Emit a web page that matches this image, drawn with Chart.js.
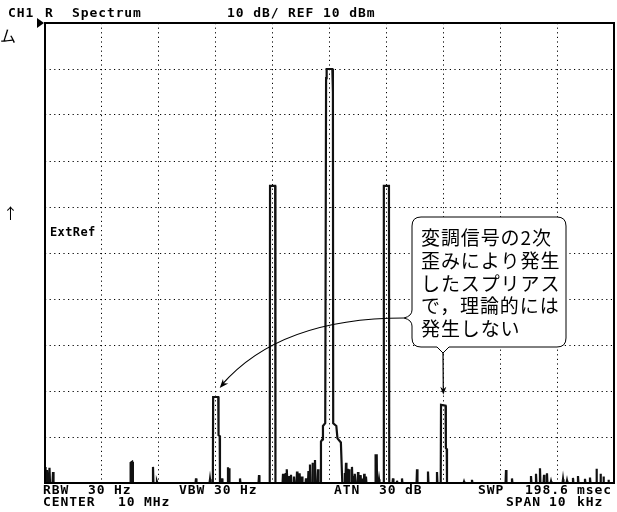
<!DOCTYPE html>
<html>
<head>
<meta charset="utf-8">
<script src="https://cdn.jsdelivr.net/npm/chart.js@4.4.1/dist/chart.umd.min.js"></script>
<style>
  html, body { margin: 0; padding: 0; background: #fff; }
  #wrap { width: 617px; height: 512px; position: relative; }
</style>
</head>
<body>
<div id="wrap"><canvas id="c" width="617" height="512"></canvas></div>
<script>
// Spectrum trace: offset from 10 MHz centre (kHz) and level (dBm), vertex by vertex
const traceKHz = [
  -5.000, -4.990, -4.975, -4.965, -4.955, -4.930, -4.921, -4.912, -4.868, -4.859, -4.850,
  -3.500, -3.495, -3.470, -3.455,
  -3.110, -3.102, -3.094,  -3.040, -3.032, -3.024,
  -2.354, -2.346, -2.338,  -2.108, -2.100, -2.092,
  -2.050, -2.045, -1.955, -1.950, -1.930, -1.925,
  -1.897, -1.889, -1.881,  -1.792, -1.784, -1.776, -1.766, -1.758,
  -1.581, -1.573, -1.565,  -1.247, -1.239, -1.231,
  -1.050, -1.045, -0.955, -0.950,
  -0.825, -0.817, -0.809,  -0.778, -0.770, -0.762,  -0.755, -0.747, -0.739,
  -0.713, -0.705, -0.697,  -0.685, -0.677, -0.669,  -0.632, -0.624, -0.616,
  -0.579, -0.571, -0.563,  -0.533, -0.525, -0.517,  -0.491, -0.483, -0.475,
  -0.421, -0.413, -0.405,  -0.378, -0.370, -0.362,  -0.351, -0.343, -0.335,
  -0.307, -0.299, -0.291,  -0.263, -0.255, -0.247,  -0.210, -0.202, -0.194,
  -0.160, -0.150, -0.125, -0.115, -0.075, -0.060, -0.050, 0.050, 0.060, 0.065, 0.120, 0.140, 0.200, 0.225,
  0.262, 0.270, 0.278,  0.282, 0.290, 0.298,  0.312, 0.320, 0.328,  0.335, 0.343, 0.351,
  0.387, 0.395, 0.403,  0.416, 0.424, 0.432,  0.440, 0.448, 0.456,  0.493, 0.501, 0.509,
  0.533, 0.541, 0.549,  0.563, 0.571, 0.579,  0.602, 0.610, 0.618,  0.633, 0.641, 0.649,
  0.805, 0.810, 0.830, 0.835,  0.862, 0.870, 0.878,
  0.950, 0.955, 1.045, 1.050,
  1.108, 1.116, 1.124,  1.178, 1.186, 1.194,  1.266, 1.274, 1.282,
  1.530, 1.538, 1.546,  1.723, 1.731, 1.739,  1.881, 1.889, 1.897,
  1.955, 1.960, 2.040, 2.045, 2.060, 2.065,
  2.356, 2.364, 2.372,  2.496, 2.504, 2.512,
  3.094, 3.102, 3.110,  3.199, 3.207, 3.215,
  3.533, 3.541, 3.549,  3.621, 3.629, 3.637,  3.691, 3.699, 3.707,
  3.762, 3.770, 3.778,  3.814, 3.822, 3.830,  3.885, 3.893, 3.901,
  4.096, 4.104, 4.112,  4.166, 4.174, 4.182,  4.271, 4.279, 4.287,
  4.359, 4.367, 4.375,  4.482, 4.490, 4.498,  4.570, 4.578, 4.586,
  4.684, 4.692, 4.700,  4.755, 4.763, 4.771,  4.807, 4.815, 4.823,
  4.895, 4.903, 4.911,  5.000
];
const traceDbm = [
  -86.5, -90, -90, -87.2, -90, -90, -86.7, -90, -90, -87.6, -90,
  -90, -85.6, -85.4, -90,
  -90, -86.5, -90,  -90, -89.7, -90,
  -90, -89.0, -90,  -90, -89.2, -90,
  -90, -71.3, -71.3, -79.6, -79.8, -90,
  -90, -89.0, -90,  -90, -86.6, -90, -86.8, -90,
  -90, -89.0, -90,  -90, -88.3, -90,
  -90, -25.4, -25.4, -90,
  -90, -88.0, -90,  -90, -87.8, -90,  -90, -87.0, -90,
  -90, -88.5, -90,  -90, -88.2, -90,  -90, -88.6, -90,
  -90, -87.5, -90,  -90, -87.9, -90,  -90, -88.6, -90,
  -90, -89.0, -90,  -90, -87.4, -90,  -90, -86.0, -90,
  -90, -85.6, -90,  -90, -85.0, -90,  -90, -87.0, -90,
  -90, -81.0, -80.5, -77.6, -77.0, -2.0, 0.0, 0.0, -5.0, -77.0, -77.6, -80.3, -81.2, -90,
  -90, -87.8, -90,  -90, -85.6, -90,  -90, -86.9, -90,  -90, -87.0, -90,
  -90, -86.5, -90,  -90, -88.4, -90,  -90, -88.0, -90,  -90, -87.6, -90,
  -90, -88.3, -90,  -90, -89.0, -90,  -90, -88.0, -90,  -90, -88.6, -90,
  -90, -84.0, -84.0, -90,  -90, -89.2, -90,
  -90, -25.4, -25.4, -90,
  -90, -89.0, -90,  -90, -89.5, -90,  -90, -89.0, -90,
  -90, -87.0, -90,  -90, -87.5, -90,  -90, -87.6, -90,
  -90, -73.0, -73.2, -82.4, -82.6, -90,
  -90, -89.7, -90,  -90, -89.3, -90,
  -90, -87.2, -90,  -90, -89.0, -90,
  -90, -88.5, -90,  -90, -88.0, -90,  -90, -86.8, -90,
  -90, -88.2, -90,  -90, -87.9, -90,  -90, -89.6, -90,
  -90, -89.2, -90,  -90, -89.5, -90,  -90, -88.9, -90,
  -90, -88.5, -90,  -90, -89.1, -90,  -90, -88.8, -90,
  -90, -86.9, -90,  -90, -88.0, -90,  -90, -88.6, -90,
  -90, -89.3, -90,  -90
];

// Display scale: 10 dB/div from REF 10 dBm, span 10 kHz
const levelRange = [-90, 10];
const levelStep = 10;
const spanKHz = [-5, 5];
const freqStep = 1;

// Spurious products pointed at by the callout (kHz, dBm)
const spurKHz = [-2.0, 2.0];
const spurDbm = [-71.3, -73.0];

// Screen annotation texts
const headerTexts = ['CH1', 'R', 'Spectrum', '10 dB/ REF 10 dBm'];
const footerRow1 = ['RBW', '30', 'Hz', 'VBW', '30', 'Hz', 'ATN', '30', 'dB', 'SWP', '198.6', 'msec'];
const footerRow2 = ['CENTER', '10', 'MHz', 'SPAN', '10', 'kHz'];
const calloutLines = ['変調信号の2次', '歪みにより発生', 'したスプリアス', 'で，理論的には', '発生しない'];

const n = Math.min(traceKHz.length, traceDbm.length);
const points = [];
for (let i = 0; i < n; i++) points.push({ x: traceKHz[i], y: traceDbm[i] });

const MONO = '"DejaVu Sans Mono", "Liberation Mono", monospace';
const JP = '"Noto Sans CJK JP", "Noto Sans CJK SC", sans-serif';

function putText(ctx, s, x, y, font, spacing) {
  ctx.font = font;
  if ('letterSpacing' in ctx) ctx.letterSpacing = spacing || '0px';
  ctx.fillText(s, x, y);
  if ('letterSpacing' in ctx) ctx.letterSpacing = '0px';
}

function arrowHead(ctx, tipX, tipY, angle, len, half) {
  ctx.save();
  ctx.translate(tipX, tipY);
  ctx.rotate(angle);
  ctx.beginPath();
  ctx.moveTo(0, 0);
  ctx.lineTo(-len, -half);
  ctx.lineTo(-len * 0.7, 0);
  ctx.lineTo(-len, half);
  ctx.closePath();
  ctx.fill();
  ctx.restore();
}

const screenPlugin = {
  id: 'screen',
  afterDatasetsDraw(chart) {
    const ctx = chart.ctx;
    const a = chart.chartArea;
    const xs = chart.scales.x, ys = chart.scales.y;
    ctx.save();
    ctx.fillStyle = '#000';
    ctx.strokeStyle = '#000';

    // graticule frame
    ctx.lineWidth = 2;
    ctx.strokeRect(a.left, a.top, a.right - a.left, a.bottom - a.top);

    // reference level marker
    ctx.beginPath();
    ctx.moveTo(a.left - 1, a.top);
    ctx.lineTo(a.left - 8, a.top - 5);
    ctx.lineTo(a.left - 8, a.top + 5);
    ctx.closePath();
    ctx.fill();

    // header line
    ctx.textBaseline = 'alphabetic';
    ctx.textAlign = 'left';
    const bold = 'bold 13px ' + MONO;
    const hx = [8, 45, 72, 227];
    headerTexts.forEach((s, i) => putText(ctx, s, hx[i], 17, bold, '0.9px'));

    // footer lines
    const f1x = [43, 88, 114, 179, 214, 240, 334, 379, 405, 478, 525, 577];
    footerRow1.forEach((s, i) => putText(ctx, s, f1x[i], 494, bold, '0.9px'));
    const f2x = [43, 118, 144, 506, 549, 577];
    footerRow2.forEach((s, i) => putText(ctx, s, f2x[i], 506, bold, '0.9px'));

    // side marks
    putText(ctx, 'ム', 0, 42, '16px ' + JP, '0px');
    putText(ctx, '↑', 3, 219, '15px ' + JP, '0px');
    putText(ctx, 'ExtRef', 50, 236, 'bold 12px ' + MONO, '0.4px');

    // callout box
    const bx0 = 412, bx1 = 566, by0 = 217, by1 = 347, r = 9;
    ctx.lineWidth = 1;
    ctx.fillStyle = '#fff';
    ctx.beginPath();
    ctx.moveTo(bx0 + r, by0);
    ctx.lineTo(bx1 - r, by0);
    ctx.quadraticCurveTo(bx1, by0, bx1, by0 + r);
    ctx.lineTo(bx1, by1 - r);
    ctx.quadraticCurveTo(bx1, by1, bx1 - r, by1);
    ctx.lineTo(449, by1);
    ctx.lineTo(443, 353);
    ctx.lineTo(437, by1);
    ctx.lineTo(bx0 + r, by1);
    ctx.quadraticCurveTo(bx0, by1, bx0, by1 - r);
    ctx.lineTo(bx0, 326);
    ctx.quadraticCurveTo(bx0, 320, 404, 318);
    ctx.quadraticCurveTo(bx0, 316, bx0, 310);
    ctx.lineTo(bx0, by0 + r);
    ctx.quadraticCurveTo(bx0, by0, bx0 + r, by0);
    ctx.closePath();
    ctx.fill();
    ctx.stroke();

    ctx.fillStyle = '#000';
    ctx.textBaseline = 'middle';
    const lineY = [238, 261, 284, 306, 329];
    calloutLines.forEach((s, i) => putText(ctx, s, 421, lineY[i], '19px ' + JP, '0.9px'));

    // arrow to the lower spur
    const lx = xs.getPixelForValue(spurKHz[0]) + 4;
    const ly = ys.getPixelForValue(spurDbm[0]) - 9;
    ctx.lineWidth = 1.2;
    ctx.beginPath();
    ctx.moveTo(404, 318);
    ctx.quadraticCurveTo(280, 318, lx + 2, ly - 3);
    ctx.stroke();
    arrowHead(ctx, lx, ly, Math.atan2(ly - 318, lx - 280), 9, 3.5);

    // arrow to the upper spur
    const rx = xs.getPixelForValue(spurKHz[1]);
    const ry = ys.getPixelForValue(spurDbm[1]) - 10;
    ctx.beginPath();
    ctx.moveTo(443, 353);
    ctx.lineTo(rx, ry - 3);
    ctx.stroke();
    arrowHead(ctx, rx, ry, Math.PI / 2, 8, 3);

    ctx.restore();
  }
};

new Chart(document.getElementById('c'), {
  type: 'line',
  data: {
    datasets: [{
      data: points,
      borderColor: '#111',
      borderWidth: 2.2,
      pointRadius: 0,
      tension: 0,
      fill: false
    }]
  },
  options: {
    responsive: false,
    animation: false,
    devicePixelRatio: 1,
    layout: { padding: { left: 45, top: 23, right: 3, bottom: 29 } },
    plugins: { legend: { display: false }, tooltip: { enabled: false }, title: { display: false } },
    scales: {
      x: {
        type: 'linear',
        min: spanKHz[0], max: spanKHz[1],
        ticks: { display: false, stepSize: freqStep },
        grid: { color: '#000', lineWidth: 1, drawTicks: false },
        border: { display: false, dash: [1.2, 3.4] }
      },
      y: {
        type: 'linear',
        min: levelRange[0], max: levelRange[1],
        ticks: { display: false, stepSize: levelStep },
        grid: { color: '#000', lineWidth: 1, drawTicks: false },
        border: { display: false, dash: [1.2, 3.4] }
      }
    }
  },
  plugins: [screenPlugin]
});
</script>
</body>
</html>
